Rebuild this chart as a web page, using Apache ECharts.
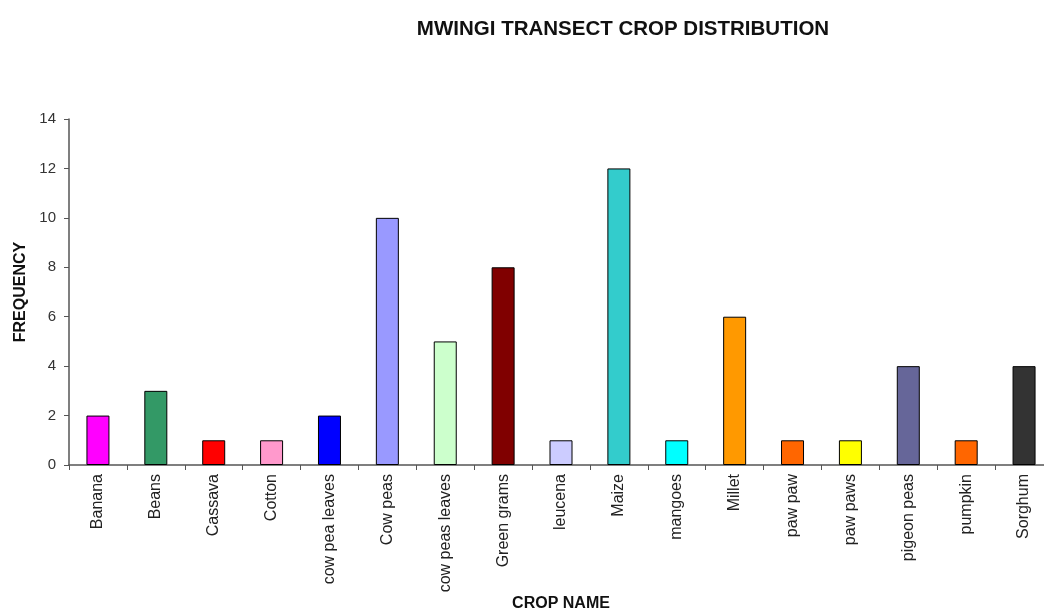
<!DOCTYPE html>
<html>
<head>
<meta charset="utf-8">
<script src="https://cdn.jsdelivr.net/npm/echarts@6/dist/echarts.min.js"></script>
<style>
  html, body { margin: 0; padding: 0; background: #fff; }
  #chart { width: 1044px; height: 614px; }
</style>
</head>
<body>
<div id="chart"></div>
<script>
// Crops recorded along the Mwingi transect and how often each was seen
const crops = ['Banana', 'Beans', 'Cassava', 'Cotton', 'cow pea leaves', 'Cow peas',
  'cow peas leaves', 'Green grams', 'leucena', 'Maize', 'mangoes', 'Millet',
  'paw paw', 'paw paws', 'pigeon peas', 'pumpkin', 'Sorghum'];
const frequency = [2, 3, 1, 1, 2, 10, 5, 8, 1, 12, 1, 6, 1, 1, 4, 1, 4];
const barColors = ['#FF00FF', '#339966', '#FF0000', '#FF99CC', '#0000FF', '#9999FF',
  '#CCFFCC', '#800000', '#CCCCFF', '#33CCCC', '#00FFFF', '#FF9900',
  '#FF6600', '#FFFF00', '#666699', '#FF6600', '#333333'];
const yTicks = [0, 2, 4, 6, 8, 10, 12, 14];

const font = 'Liberation Sans, Arial, sans-serif';
const chart = echarts.init(document.getElementById('chart'), null, { renderer: 'canvas' });

chart.setOption({
  animation: false,
  backgroundColor: '#ffffff',
  title: {
    text: 'MWINGI TRANSECT CROP DISTRIBUTION',
    left: 618, top: 14, textAlign: 'center',
    textStyle: { fontFamily: font, fontSize: 20.5, fontWeight: 'bold', color: '#111' }
  },
  // the last category runs past the right edge of the canvas
  grid: { left: 69, top: 119, right: -9, bottom: 149, containLabel: false, outerBoundsMode: 'none' },
  xAxis: {
    type: 'category',
    data: crops,
    name: 'CROP NAME',
    nameLocation: 'middle',
    nameGap: 131,
    nameMoveOverlap: false,
    nameTextStyle: { fontFamily: font, fontSize: 16, fontWeight: 'bold', color: '#111' },
    axisLine: { lineStyle: { color: '#555', width: 1.5 } },
    axisTick: { show: true, alignWithLabel: false, length: 5, lineStyle: { color: '#555' } },
    axisLabel: { rotate: 90, fontFamily: font, fontSize: 16, color: '#222', margin: 9, interval: 0 }
  },
  yAxis: {
    type: 'value',
    min: 0, max: yTicks[yTicks.length - 1], interval: yTicks[1] - yTicks[0],
    name: 'FREQUENCY',
    nameLocation: 'middle',
    nameRotate: 90,
    nameGap: 40,
    nameMoveOverlap: false,
    nameTextStyle: { fontFamily: font, fontSize: 16, fontWeight: 'bold', color: '#111' },
    axisLine: { show: true, lineStyle: { color: '#555', width: 1.5 } },
    axisTick: { show: true, length: 5, lineStyle: { color: '#555' } },
    splitLine: { show: false },
    axisLabel: { fontFamily: font, fontSize: 15, color: '#333', margin: 13 }
  },
  series: [{
    type: 'bar',
    data: frequency.map((v, i) => ({ value: v, itemStyle: { color: barColors[i] } })),
    barWidth: 23,
    itemStyle: { borderColor: '#000', borderWidth: 1 }
  }]
});
</script>
</body>
</html>
